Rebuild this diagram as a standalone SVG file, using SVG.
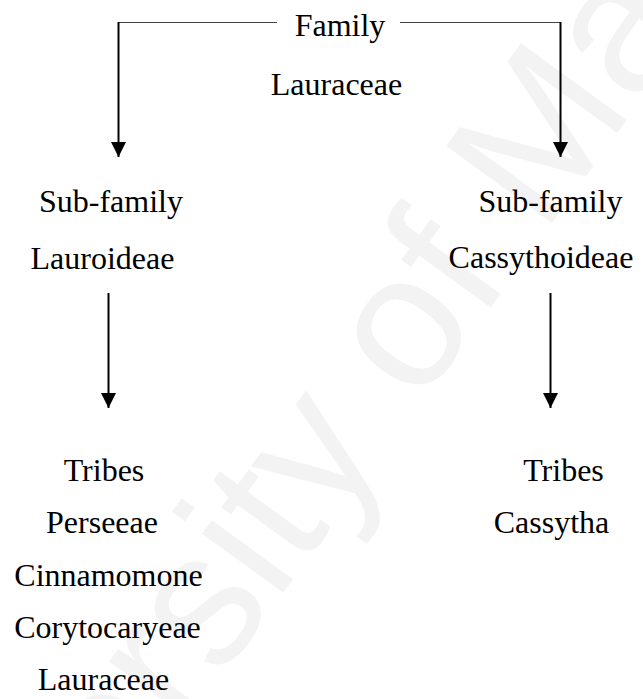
<svg xmlns="http://www.w3.org/2000/svg" width="643" height="699" viewBox="0 0 643 699">
<defs>
<style>
.t{font-family:"Liberation Serif","Times New Roman",serif;font-size:32px;fill:#000;text-anchor:middle}
.wm{font-family:"Liberation Sans",Arial,sans-serif;font-size:190px;fill:#f3f3f3;text-anchor:middle}
.ln{stroke:#000;stroke-width:2;fill:none}
.hl{stroke:#444;stroke-width:1;fill:none}
</style>
<marker id="ah" markerUnits="userSpaceOnUse" markerWidth="16" markerHeight="16" viewBox="0 0 16 16" refX="15" refY="8" orient="auto">
<path d="M0,0.5 L15,8 L0,15.5 Z" fill="#000"/>
</marker>
</defs>
<rect width="643" height="699" fill="#fff"/>
<text class="wm" transform="translate(400,432) rotate(-54)">University of Malaya</text>
<g id="connectors">
<path class="hl" d="M118.5,22.5 H277 M400,22.5 H560.5"/>
<line class="ln" x1="118.5" y1="22" x2="118.5" y2="157" marker-end="url(#ah)"/>
<line class="ln" x1="560.5" y1="22" x2="560.5" y2="157" marker-end="url(#ah)"/>
<line class="ln" x1="108.5" y1="293" x2="108.5" y2="408" marker-end="url(#ah)"/>
<line class="ln" x1="550.5" y1="293" x2="550.5" y2="408" marker-end="url(#ah)"/>
</g>
<g id="family">
<text class="t" x="340" y="36">Family</text>
<text class="t" x="336.5" y="95">Lauraceae</text>
</g>
<g id="subfamily-lauroideae">
<text class="t" x="111" y="212">Sub-family</text>
<text class="t" x="102.5" y="269">Lauroideae</text>
</g>
<g id="subfamily-cassythoideae">
<text class="t" x="550.5" y="212">Sub-family</text>
<text class="t" x="541" y="268">Cassythoideae</text>
</g>
<g id="tribes-lauroideae">
<text class="t" x="104" y="481">Tribes</text>
<text class="t" x="102" y="533">Perseeae</text>
<text class="t" x="108.5" y="586">Cinnamomone</text>
<text class="t" x="107.5" y="638">Corytocaryeae</text>
<text class="t" x="103.5" y="690">Lauraceae</text>
</g>
<g id="tribes-cassythoideae">
<text class="t" x="563.5" y="481">Tribes</text>
<text class="t" x="551.5" y="533">Cassytha</text>
</g>
</svg>
